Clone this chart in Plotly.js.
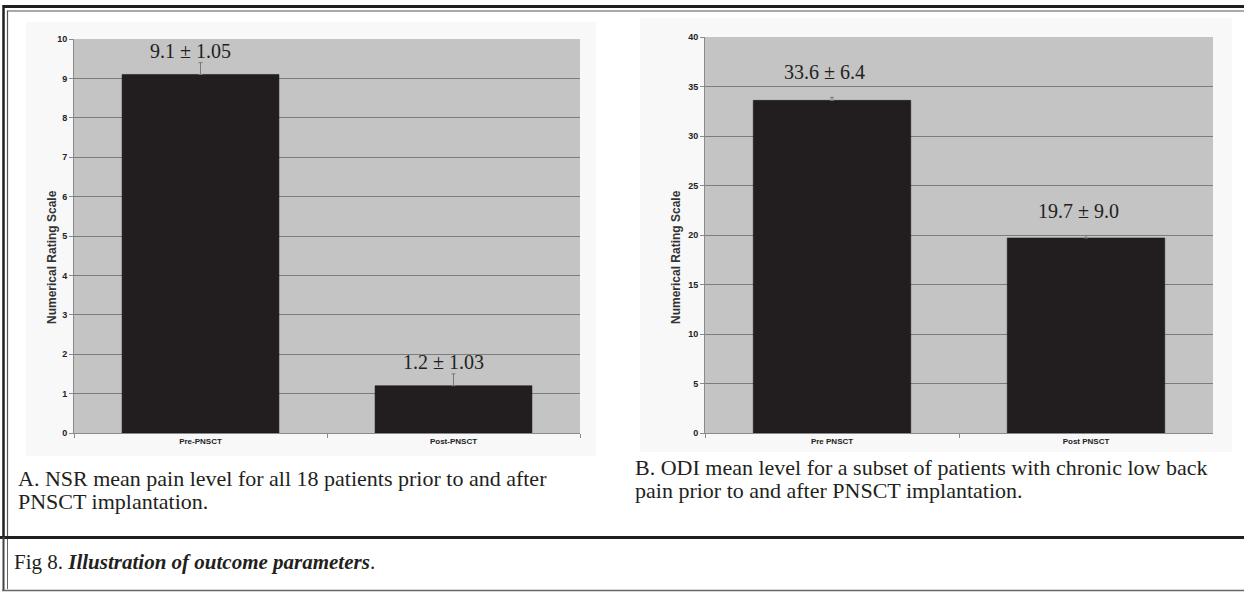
<!DOCTYPE html>
<html>
<head>
<meta charset="utf-8">
<script src="https://cdn.plot.ly/plotly-3.0.1.min.js"></script>
<style>
html,body{margin:0;padding:0;background:#fff;}
#chart{width:1244px;height:592px;}
</style>
</head>
<body>
<div id="chart"></div>
<script>
// ---- data ----
const catsA = ["Pre-PNSCT", "Post-PNSCT"];
const meanA = [9.1, 1.2];
const errA = [0.3, 0.3];          // drawn error-bar length as pictured
const labelA = ["9.1 ± 1.05", "1.2 ± 1.03"];

const catsB = ["Pre PNSCT", "Post PNSCT"];
const meanB = [33.6, 19.7];
const errB = [0.3, 0.25];
const labelB = ["33.6 ± 6.4", "19.7 ± 9.0"];

const yTitle = "Numerical Rating Scale";
const captionA = ["A. NSR mean pain level for all 18 patients prior to and after", "PNSCT implantation."];
const captionB = ["B. ODI mean level for a subset of patients with chronic low back", "pain prior to and after PNSCT implantation."];
const figCaption = "Fig 8. <b><i>Illustration of outcome parameters</i></b>.";

// ---- helpers (pixel -> paper) ----
const W = 1244, H = 592;
const px = x => x / W;
const py = y => 1 - y / H;

const barColor = "#221e1f";
const errStyle = (arr) => ({type: "data", array: arr, arrayminus: arr.map(() => 0),
  color: "#7a7a7a", thickness: 1, width: 2, symmetric: false});

const traces = [
  {type: "bar", x: catsA, y: meanA, xaxis: "x", yaxis: "y", width: 0.62,
   marker: {color: barColor, line: {color: "#111", width: 0.5}},
   error_y: errStyle(errA), hoverinfo: "skip"},
  {type: "bar", x: catsB, y: meanB, xaxis: "x2", yaxis: "y2", width: 0.62,
   marker: {color: barColor, line: {color: "#111", width: 0.5}},
   error_y: errStyle(errB), hoverinfo: "skip"}
];

const sans = "Liberation Sans, Arial, sans-serif";
const tickFont = {family: sans, size: 9, color: "#222", weight: "bold"};
const yCommon = {
  showgrid: true, gridcolor: "#7c7c7c", gridwidth: 1,
  showline: true, linecolor: "#8a8a8a", linewidth: 1,
  ticks: "outside", ticklen: 4, tickcolor: "#8a8a8a",
  tickfont: tickFont, zeroline: false, fixedrange: true
};
const xCommon = {
  showline: true, linecolor: "#8a8a8a", linewidth: 1,
  ticks: "outside", ticklen: 4, tickcolor: "#8a8a8a", tickson: "boundaries",
  tickfont: {family: "Liberation Sans Narrow, Liberation Sans, Arial, sans-serif", size: 8, color: "#222", weight: "bold"},
  showgrid: false, fixedrange: true
};

const serif = "Liberation Serif, Times New Roman, serif";
const textColor = "#231f20";
const annotations = [];
labelA.forEach((t, i) => annotations.push({
  xref: "x", yref: "y", x: catsA[i], y: meanA[i] + errA[i], text: t,
  showarrow: false, yanchor: "bottom", xshift: -10, yshift: -1,
  font: {family: serif, size: 20, color: textColor}
}));
labelB.forEach((t, i) => annotations.push({
  xref: "x2", yref: "y2", x: catsB[i], y: meanB[i] + errB[i], text: t,
  showarrow: false, yanchor: "bottom", xshift: -8, yshift: 12,
  font: {family: serif, size: 20, color: textColor}
}));
// y-axis titles
const yTitleFont = {family: sans, size: 12, color: "#333", weight: "bold"};
[[52, 257], [676, 257]].forEach(p => annotations.push({xref: "paper", yref: "paper",
  x: px(p[0]), y: py(p[1]), xanchor: "center", yanchor: "middle", textangle: -90,
  showarrow: false, text: yTitle, font: yTitleFont}));
const capFont = {family: serif, size: 22, color: textColor};
captionA.forEach((t, i) => annotations.push({xref: "paper", yref: "paper", x: px(16), y: py(478 + 23 * i),
  xanchor: "left", yanchor: "middle", align: "left", showarrow: false, text: t, font: capFont}));
captionB.forEach((t, i) => annotations.push({xref: "paper", yref: "paper", x: px(633), y: py(467 + 23 * i),
  xanchor: "left", yanchor: "middle", align: "left", showarrow: false, text: t, font: capFont}));
annotations.push({xref: "paper", yref: "paper", x: px(12), y: py(562), xanchor: "left", yanchor: "middle",
  align: "left", showarrow: false, text: figCaption, font: {family: serif, size: 21, color: textColor}});

const line = (x0, y0, x1, y1, w, c) => ({type: "line", xref: "paper", yref: "paper",
  x0: px(x0), y0: py(y0), x1: px(x1), y1: py(y1), line: {color: c, width: w}, layer: "above"});
const rect = (x0, y0, x1, y1, fill) => ({type: "rect", xref: "paper", yref: "paper",
  x0: px(x0), y0: py(y0), x1: px(x1), y1: py(y1), fillcolor: fill, line: {width: 0}, layer: "below"});
const plotBg = (xa, ya) => ({type: "rect", xref: xa + " domain", yref: ya + " domain",
  x0: 0, y0: 0, x1: 1, y1: 1, fillcolor: "#c4c4c4", line: {width: 0}, layer: "below"});

const shapes = [
  rect(26, 22, 596, 456, "#f8f8f8"),
  rect(640, 18, 1232, 452, "#f8f8f8"),
  plotBg("x", "y"),
  plotBg("x2", "y2"),
  // frame - upper panel
  line(3, 6.5, 1244, 6.5, 3, "#231f20"),
  line(7.5, 11, 1244, 11, 1.2, "#555"),
  line(3.5, 5, 3.5, 538, 2.5, "#231f20"),
  line(7.5, 10.5, 7.5, 536, 1.2, "#555"),
  // separator
  line(0, 537.5, 1244, 537.5, 3, "#231f20"),
  // lower panel
  line(3.5, 537, 3.5, 591, 2, "#444"),
  line(7.5, 539, 7.5, 589, 1, "#666"),
  line(2, 590.5, 1244, 590.5, 1.5, "#666")
];

const layout = {
  width: W, height: H,
  margin: {l: 0, r: 0, t: 0, b: 0},
  paper_bgcolor: "#ffffff", plot_bgcolor: "#c4c4c4",
  showlegend: false,
  xaxis: Object.assign({}, xCommon, {domain: [px(74), px(580)], anchor: "y"}),
  yaxis: Object.assign({}, yCommon, {domain: [py(433), py(39)], range: [0, 10], dtick: 1, anchor: "x"}),
  xaxis2: Object.assign({}, xCommon, {domain: [px(705), px(1213)], anchor: "y2"}),
  yaxis2: Object.assign({}, yCommon, {domain: [py(433), py(37)], range: [0, 40], dtick: 5, anchor: "x2"}),
  annotations: annotations,
  shapes: shapes
};

Plotly.newPlot("chart", traces, layout, {displayModeBar: false, staticPlot: true});
</script>
</body>
</html>
